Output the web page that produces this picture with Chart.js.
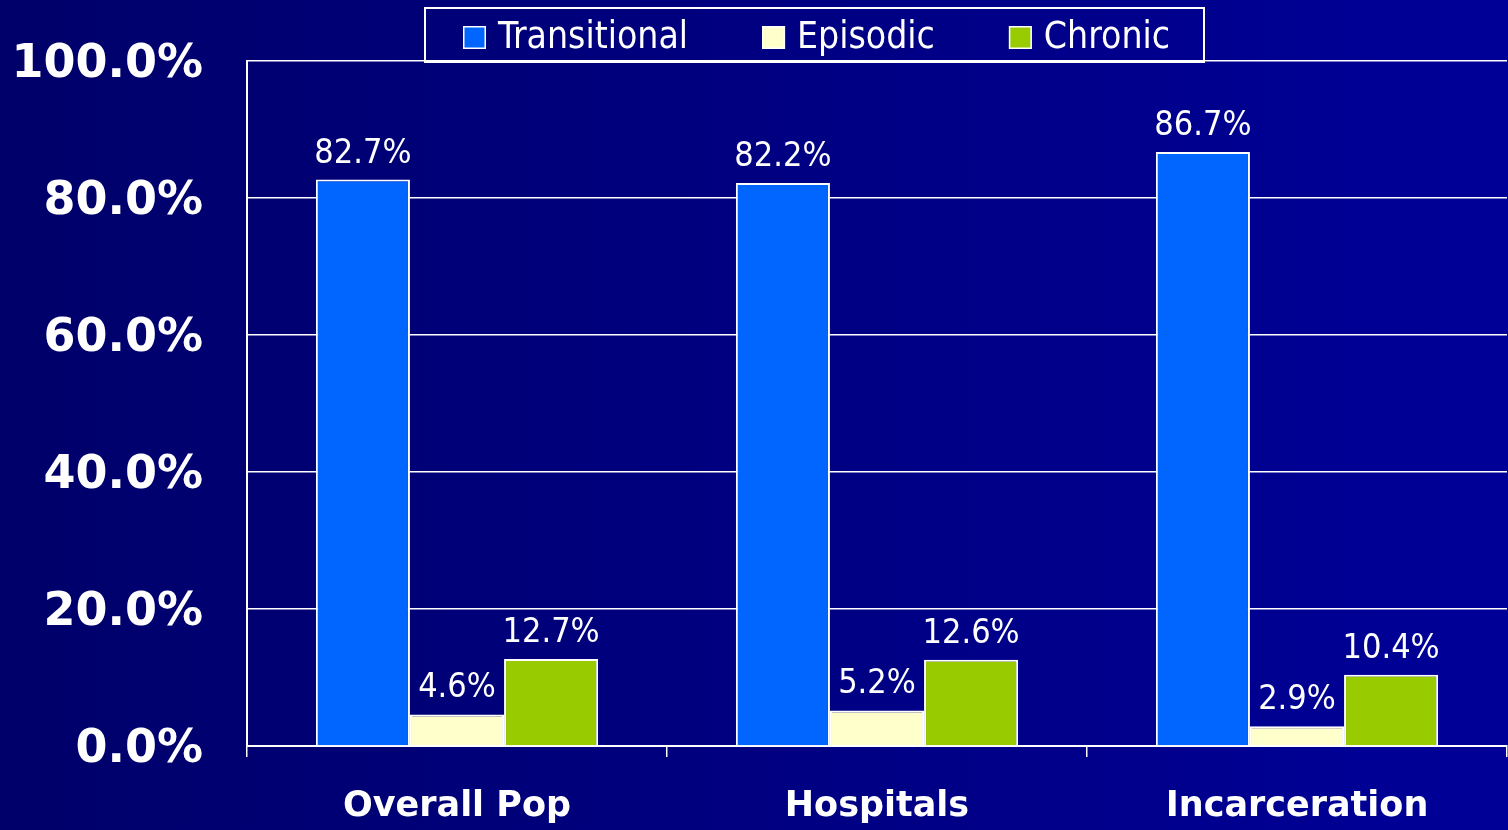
<!DOCTYPE html>
<html><head><meta charset="utf-8">
<script src="https://cdn.jsdelivr.net/npm/chart.js@4"></script>
<style>html,body{margin:0;padding:0;background:#000080;overflow:hidden}
#wrap{width:1508px;height:830px;position:relative}</style>
</head><body><div id="wrap"><canvas id="c" width="1508" height="830"></canvas></div>
<script>
const categories = ['Overall Pop', 'Hospitals', 'Incarceration'];
const seriesNames = ['Transitional', 'Episodic', 'Chronic'];
const transitional = [82.7, 82.2, 86.7];
const episodic = [4.6, 5.2, 2.9];
const chronic = [12.7, 12.6, 10.4];
const yTickValues = [0, 20, 40, 60, 80, 100];
const seriesColors = ['#0066FF', '#FFFFCC', '#99CC00'];

const seriesValues = [transitional, episodic, chronic];

const bgPlugin = {
  id: 'bg',
  beforeDraw(chart) {
    const ctx = chart.ctx;
    const g = ctx.createLinearGradient(0, 0, chart.width, 0);
    g.addColorStop(0, '#00006A');
    g.addColorStop(1, '#000098');
    ctx.save();
    ctx.fillStyle = g;
    ctx.fillRect(0, 0, chart.width, chart.height);
    ctx.restore();
  }
};

const labelPlugin = {
  id: 'vlabels',
  afterDatasetsDraw(chart) {
    const ctx = chart.ctx;
    ctx.save();
    ctx.fillStyle = '#ffffff';
    ctx.font = '34px "DejaVu Sans Condensed", "DejaVu Sans"';
    ctx.textAlign = 'center';
    ctx.textBaseline = 'alphabetic';
    chart.data.datasets.forEach((ds, i) => {
      const meta = chart.getDatasetMeta(i);
      meta.data.forEach((bar, j) => {
        ctx.fillText(ds.data[j].toFixed(1) + '%', bar.x, bar.y - 17);
      });
    });
    ctx.restore();
  }
};

const legendPlugin = {
  id: 'customLegend',
  afterDraw(chart) {
    const ctx = chart.ctx;
    ctx.save();
    ctx.strokeStyle = '#ffffff';
    ctx.lineWidth = 2;
    ctx.strokeRect(425, 8, 779, 54);
    ctx.font = '37px "DejaVu Sans Condensed", "DejaVu Sans"';
    ctx.textBaseline = 'middle';
    ctx.textAlign = 'left';
    let x = 463;
    chart.data.datasets.forEach((ds) => {
      ctx.fillStyle = ds.backgroundColor;
      ctx.fillRect(x, 26, 23, 23);
      ctx.lineWidth = 1.5;
      ctx.strokeStyle = '#ffffff';
      ctx.strokeRect(x + 0.75, 26.75, 21.5, 21.5);
      ctx.fillStyle = '#ffffff';
      ctx.fillText(ds.label, x + 35, 38);
      x += 35 + ctx.measureText(ds.label).width + 74;
    });
    ctx.restore();
  }
};

const datasets = seriesNames.map((name, i) => ({
  label: name,
  data: seriesValues[i],
  backgroundColor: seriesColors[i],
  borderColor: '#ffffff',
  borderWidth: 2,
  categoryPercentage: 0.672,
  barPercentage: 1.0
}));

new Chart(document.getElementById('c'), {
  type: 'bar',
  data: { labels: categories, datasets },
  options: {
    responsive: false,
    devicePixelRatio: 1,
    animation: false,
    layout: { padding: { top: 61, right: 1, left: 0, bottom: 0 } },
    plugins: { legend: { display: false }, tooltip: { enabled: false } },
    scales: {
      x: {
        offset: true,
        grid: { drawOnChartArea: false, drawTicks: true, tickLength: 11, color: '#ffffff', lineWidth: 1.5 },
        border: { color: '#ffffff', width: 2 },
        ticks: { color: '#ffffff', padding: 29, font: { family: 'DejaVu Sans', weight: 'bold', size: 35 } },
        afterFit(s) { s.height = 84; }
      },
      y: {
        min: 0, max: 100,
        afterBuildTicks(s) { s.ticks = yTickValues.map(v => ({ value: v })); },
        grid: { drawTicks: false, color: '#ffffff', lineWidth: 1.5 },
        border: { color: '#ffffff', width: 2 },
        ticks: {
          color: '#ffffff', padding: 44, labelOffset: 4,
          font: { family: 'DejaVu Sans', weight: 'bold', size: 46 },
          callback: v => v.toFixed(1) + '%'
        },
        afterFit(s) { s.width = 247; s.paddingTop = 28; s.paddingBottom = 28; }
      }
    }
  },
  plugins: [bgPlugin, labelPlugin, legendPlugin]
});
</script></body></html>
